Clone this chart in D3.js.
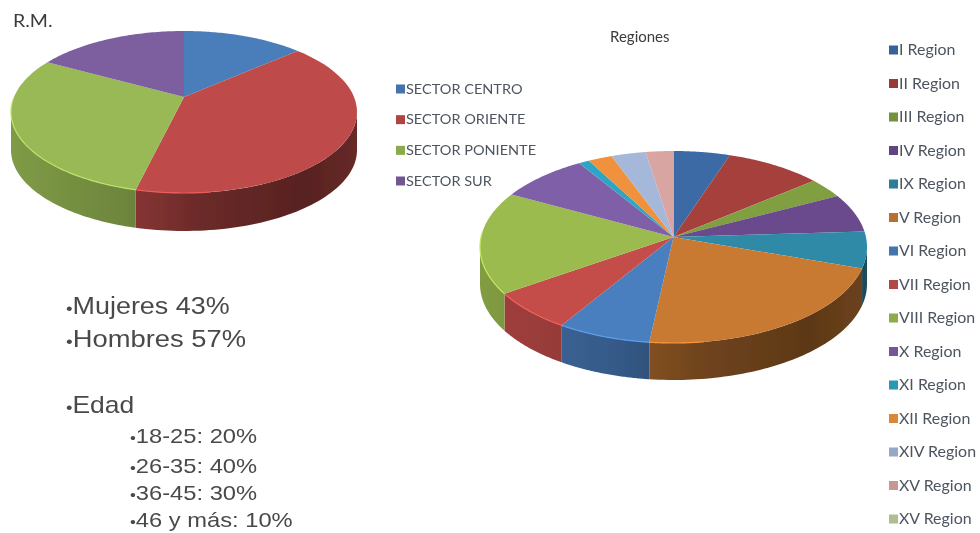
<!DOCTYPE html>
<html lang="es">
<head>
<meta charset="utf-8">
<title>R.M. y Regiones</title>
<script src="https://cdn.jsdelivr.net/npm/d3@7"></script>
<style>
body { margin: 0; background: #fff; }
svg { display: block; }
.legend text { font-family: Lato, "Open Sans", sans-serif; fill: #4d5560; }
.title { font-family: Lato, "Open Sans", sans-serif; fill: #3c3c3c; }
.notes text { font-family: "Liberation Sans", Arial, sans-serif; fill: #4a4a4a; }
</style>
</head>
<body>
<svg width="980" height="533"></svg>

<script>
// data: R.M. pie
var sectorNames = ["SECTOR CENTRO", "SECTOR ORIENTE", "SECTOR PONIENTE", "SECTOR SUR"];
var sectorValues = [11.4, 43.1, 31.0, 14.5];
var sectorColors = ["#4a7ebb", "#be4b48", "#98b954", "#7d5fa0"];

// data: Regiones pie
var regionNames = ["I Region", "II Region", "III Region", "IV Region", "IX Region", "V Region", "VI Region",
  "VII Region", "VIII Region", "X Region", "XI Region", "XII Region", "XIV Region", "XV Region", "XV Region"];
var regionValues = [4.7, 8.2, 3.2, 6.3, 6.2, 23.4, 7.8, 7.1, 17.3, 7.7, 0.9, 2.0, 2.9, 2.3, 0];
var regionColors = ["#3b6ba5", "#a5403d", "#7f9f3f", "#6a4a8c", "#2f8aa6", "#c97a33", "#4a7fbf",
  "#c44d4a", "#9bbb50", "#7f5ea8", "#2fa5c4", "#f0923c", "#a5b8da", "#d9a5a3", "#c0cfa0"];

// data: text notes
var genderLines = ["Mujeres 43%", "Hombres 57%"];
var ageHeading = "Edad";
var ageLines = ["18-25: 20%", "26-35: 40%", "36-45: 30%", "46 y más: 10%"];

var svg = d3.select("svg");

// blur, the reference is a soft screenshot
var defs = svg.append("defs");
defs.append("filter").attr("id", "soft")
    .attr("filterUnits", "userSpaceOnUse")
    .attr("x", 0).attr("y", 0).attr("width", 980).attr("height", 533)
  .append("feGaussianBlur").attr("stdDeviation", 0.7);

var line = d3.line();
var pie = d3.pie().sort(null);

// point on the rim of the top ellipse
function rim(p, a) {
  return [p.cx + p.rx * Math.sin(a), p.cy - p.ry * Math.cos(a)];
}

function rimPoints(p, a0, a1) {
  return d3.range(0, 61).map(function(i) {
    return rim(p, a0 + (a1 - a0) * i / 60);
  });
}

function drawPie(p, values, colors, id) {
  var g = svg.append("g").attr("filter", "url(#soft)");
  var slices = pie(values);

  // side wall, only the front half of the ellipse shows
  slices.forEach(function(d, i) {
    var a0 = Math.max(d.startAngle, Math.PI / 2);
    var a1 = Math.min(d.endAngle, Math.PI * 1.5);
    if (a1 <= a0) return;
    var top = rimPoints(p, a0, a1);
    var bottom = top.map(function(q) { return [q[0], q[1] + p.depth]; }).reverse();

    var grad = defs.append("linearGradient").attr("id", id + i)
        .attr("gradientUnits", "userSpaceOnUse")
        .attr("x1", p.cx - p.rx).attr("x2", p.cx + p.rx).attr("y1", 0).attr("y2", 0);
    [[0, 0.5], [0.35, 0.95], [0.55, 1.6], [0.85, 2.2], [1, 1.7]].forEach(function(s) {
      grad.append("stop").attr("offset", s[0]).attr("stop-color", d3.color(colors[i]).darker(s[1]));
    });

    g.append("path")
        .attr("d", line(top.concat(bottom)) + "Z")
        .attr("fill", "url(#" + id + i + ")");
  });

  // top face
  g.selectAll(".slice")
    .data(slices)
    .enter().append("path")
      .attr("class", "slice")
      .attr("fill", function(d, i) { return colors[i]; })
      .attr("d", function(d) {
        return line([[p.cx, p.apexY]].concat(rimPoints(p, d.startAngle, d.endAngle))) + "Z";
      });

  // light bevel along the left part of the front rim
  slices.forEach(function(d, i) {
    var a0 = Math.max(d.startAngle, Math.PI * 0.95);
    var a1 = Math.min(d.endAngle, Math.PI * 1.55);
    if (a1 <= a0) return;
    g.append("path")
        .attr("d", line(rimPoints(p, a0, a1)))
        .attr("fill", "none")
        .attr("stroke", d3.color(colors[i]).brighter(0.6))
        .attr("stroke-width", 1.2);
  });
}

drawPie({cx: 184, cy: 112, rx: 173, ry: 81, apexY: 97, depth: 38}, sectorValues, sectorColors, "sec");
drawPie({cx: 673.5, cy: 247, rx: 193.5, ry: 96, apexY: 237, depth: 37}, regionValues, regionColors, "reg");

// legends, text is stretched sideways like the reference
function drawLegend(names, colors, x, y, fontSize, box) {
  var g = svg.append("g").attr("class", "legend").attr("filter", "url(#soft)");
  var row = g.selectAll("g")
    .data(names)
    .enter().append("g")
      .attr("transform", function(d, i) { return "translate(" + x + "," + y(i) + ")"; });
  row.append("rect")
      .attr("x", 0).attr("y", -box / 2)
      .attr("width", box).attr("height", box)
      .attr("fill", function(d, i) { return d3.color(colors[i]).darker(0.25); });
  row.append("text")
      .attr("transform", "translate(" + (box + 1) + ",0) scale(1.1,1)")
      .attr("dy", "0.36em")
      .attr("font-size", fontSize)
      .text(function(d) { return d; });
}

drawLegend(sectorNames, sectorColors, 396,
  d3.scaleLinear().domain([0, sectorNames.length - 1]).range([89, 181]), 13.2, 9);
drawLegend(regionNames, regionColors, 889,
  d3.scaleLinear().domain([0, regionNames.length - 1]).range([50, 519]), 14.5, 9);

// titles, filter goes on the group so its region stays in page coordinates
var titles = svg.append("g").attr("filter", "url(#soft)");
titles.append("text").attr("class", "title")
    .attr("transform", "translate(13,27) scale(1.15,1)")
    .attr("font-size", 17).text("R.M.");
titles.append("text").attr("class", "title").attr("x", 610).attr("y", 42)
    .attr("font-size", 15).text("Regiones");

// notes on the lower left
var notes = svg.append("g").attr("class", "notes").attr("filter", "url(#soft)");
var noteRows = [
  {t: genderLines[0], x: 66, y: 314, s: 23, k: 1.17},
  {t: genderLines[1], x: 66, y: 347, s: 23, k: 1.19},
  {t: ageHeading, x: 66, y: 413, s: 23, k: 1.15},
  {t: ageLines[0], x: 130, y: 443, s: 21, k: 1.13},
  {t: ageLines[1], x: 130, y: 473, s: 21, k: 1.13},
  {t: ageLines[2], x: 130, y: 500, s: 21, k: 1.13},
  {t: ageLines[3], x: 130, y: 527, s: 21, k: 1.13}
];
var noteText = notes.selectAll("text")
  .data(noteRows)
  .enter().append("text")
    .attr("transform", function(d) { return "translate(" + d.x + "," + d.y + ") scale(" + d.k + ",1)"; })
    .attr("font-size", function(d) { return d.s; });
noteText.append("tspan").attr("font-size", "0.7em").text("•");
noteText.append("tspan").text(function(d) { return d.t; });
</script>
</body>
</html>
